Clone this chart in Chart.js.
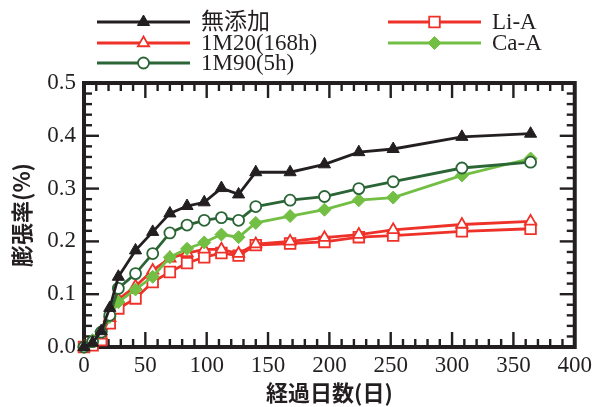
<!DOCTYPE html>
<html><head><meta charset="utf-8">
<script src="https://cdn.jsdelivr.net/npm/chart.js@4.4.1/dist/chart.umd.min.js"></script>
<style>html,body{margin:0;padding:0;background:#fff}canvas{display:block}</style>
</head><body>
<canvas id="c" width="597" height="407"></canvas>
<script>
// ---- data ----
const days = [0, 7, 14, 21, 28, 42, 56, 70, 84, 98, 112, 126, 140, 168, 196, 224, 252, 308, 364];
const noAdditive = [0, 0.008, 0.030, 0.074, 0.133, 0.183, 0.218, 0.253, 0.267, 0.274, 0.301, 0.289, 0.331, 0.331, 0.346, 0.369, 0.375, 0.398, 0.404];
const m20_168h  = [0, 0.008, 0.022, 0.055, 0.090, 0.115, 0.145, 0.168, 0.178, 0.185, 0.185, 0.177, 0.195, 0.200, 0.207, 0.213, 0.222, 0.232, 0.238];
const m90_5h    = [0, 0.010, 0.028, 0.060, 0.111, 0.139, 0.177, 0.216, 0.231, 0.240, 0.245, 0.240, 0.266, 0.278, 0.285, 0.300, 0.313, 0.339, 0.350];
const liA       = [0, 0.003, 0.013, 0.045, 0.073, 0.092, 0.123, 0.142, 0.159, 0.170, 0.178, 0.173, 0.193, 0.196, 0.199, 0.208, 0.211, 0.219, 0.224];
const caA       = [0, 0.013, 0.029, 0.057, 0.085, 0.109, 0.133, 0.170, 0.186, 0.198, 0.213, 0.208, 0.235, 0.248, 0.260, 0.278, 0.283, 0.325, 0.357];
const seriesNames = ['無添加', '1M20(168h)', '1M90(5h)', 'Li-A', 'Ca-A'];
const xTickValues = [0, 50, 100, 150, 200, 250, 300, 350, 400];
const yTickValues = [0, 0.1, 0.2, 0.3, 0.4, 0.5];
const xTitle = '経過日数(日)';
const yTitle = '膨張率(%)';

const BLACK = '#231f20', RED = '#ee3129', DKGREEN = '#2b6535', LTGREEN = '#72bf44';
const pts = arr => days.map((d, i) => ({x: d, y: arr[i]}));

function ds(label, arr, color, style, radius, filled, order) {
  return {
    label, data: pts(arr), borderColor: color, borderWidth: 2.8,
    pointStyle: style, pointRadius: radius, pointHoverRadius: radius,
    pointBackgroundColor: filled ? color : '#ffffff', pointBorderColor: color,
    pointBorderWidth: filled ? 1 : 1.8, tension: 0, clip: false, order
  };
}

const datasets = [
  ds(seriesNames[0], noAdditive, BLACK, 'triangle', 7, true, 0),
  ds(seriesNames[2], m90_5h, DKGREEN, 'circle', 5.5, false, 1),
  ds(seriesNames[4], caA, LTGREEN, 'rectRot', 6.5, true, 2),
  ds(seriesNames[1], m20_168h, RED, 'triangle', 6.5, false, 3),
  ds(seriesNames[3], liA, RED, 'rect', 7.5, false, 4)
];

const framePlugin = {
  id: 'frame',
  beforeDatasetsDraw(chart) {
    const {ctx, chartArea: a, scales: {x, y}} = chart;
    ctx.save();
    ctx.strokeStyle = BLACK;
    ctx.lineWidth = 2.4;
    const seg = (x1, y1, x2, y2) => { ctx.beginPath(); ctx.moveTo(x1, y1); ctx.lineTo(x2, y2); ctx.stroke(); };
    for (let i = 0; i <= 40; i++) {
      const v = i * 10;
      const px = x.getPixelForValue(v);
      const len = (i % 5 === 0) ? 15 : 8;
      seg(px, a.bottom, px, a.bottom - len);
      seg(px, a.top, px, a.top + len);
    }
    for (let i = 0; i <= 25; i++) {
      const v = i * 0.02;
      const py = y.getPixelForValue(v);
      const len = (i % 5 === 0) ? 15 : 8;
      seg(a.left, py, a.left + len, py);
      seg(a.right, py, a.right - len, py);
    }
    ctx.lineWidth = 4;
    ctx.strokeRect(a.left, a.top, a.right - a.left, a.bottom - a.top);
    ctx.restore();
  }
};

const legendPlugin = {
  id: 'customLegend',
  afterDraw(chart) {
    const ctx = chart.ctx;
    const byLabel = l => chart.data.datasets.find(d => d.label === l);
    const entries = [
      {label: seriesNames[0], x: 97, y: 22},
      {label: seriesNames[1], x: 97, y: 43},
      {label: seriesNames[2], x: 97, y: 63},
      {label: seriesNames[3], x: 388, y: 22},
      {label: seriesNames[4], x: 388, y: 43}
    ];
    ctx.save();
    ctx.font = "23px 'Liberation Serif', 'Noto Sans CJK JP', serif";
    ctx.textBaseline = 'middle';
    ctx.fillStyle = BLACK;
    for (const e of entries) {
      const d = byLabel(e.label);
      ctx.strokeStyle = d.borderColor;
      ctx.lineWidth = d.borderWidth;
      ctx.beginPath(); ctx.moveTo(e.x, e.y); ctx.lineTo(e.x + 93, e.y); ctx.stroke();
      ctx.fillStyle = d.pointBackgroundColor;
      ctx.strokeStyle = d.pointBorderColor;
      ctx.lineWidth = d.pointBorderWidth;
      Chart.helpers.drawPoint(ctx, {pointStyle: d.pointStyle, radius: d.pointRadius, borderWidth: d.pointBorderWidth, rotation: 0}, e.x + 46.5, e.y);
      ctx.fillStyle = BLACK;
      ctx.fillText(e.label, e.x + 104, e.y + 1);
    }
    ctx.restore();
  }
};

new Chart(document.getElementById('c'), {
  type: 'line',
  data: {datasets},
  plugins: [framePlugin, legendPlugin],
  options: {
    responsive: false, animation: false, devicePixelRatio: 1,
    layout: {padding: {top: 83, right: 20, left: 0, bottom: 0}},
    plugins: {legend: {display: false}, tooltip: {enabled: false}},
    scales: {
      x: {
        type: 'linear', min: 0, max: 400,
        afterBuildTicks: s => { s.ticks = xTickValues.map(v => ({value: v})); },
        afterFit: s => { s.height = 60; },
        grid: {display: false, drawTicks: false}, border: {display: false},
        ticks: {color: BLACK, padding: 5, maxRotation: 0, autoSkip: false,
                font: {family: "'Liberation Serif', serif", size: 23}},
        title: {display: true, text: xTitle, color: BLACK, padding: {top: 0, bottom: 1},
                font: {family: "'Noto Sans CJK JP', sans-serif", size: 22, weight: 'bold'}}
      },
      y: {
        type: 'linear', min: 0, max: 0.5,
        afterBuildTicks: s => { s.ticks = yTickValues.map(v => ({value: v})); },
        afterFit: s => { s.width = 84; },
        grid: {display: false, drawTicks: false}, border: {display: false},
        ticks: {color: BLACK, padding: 8, autoSkip: false, callback: v => Number(v).toFixed(1),
                font: {family: "'Liberation Serif', serif", size: 23}},
        title: {display: true, text: yTitle, color: BLACK, padding: {top: 8, bottom: 0},
                font: {family: "'Noto Sans CJK JP', sans-serif", size: 22, weight: 'bold'}}
      }
    }
  }
});
</script>
</body></html>
